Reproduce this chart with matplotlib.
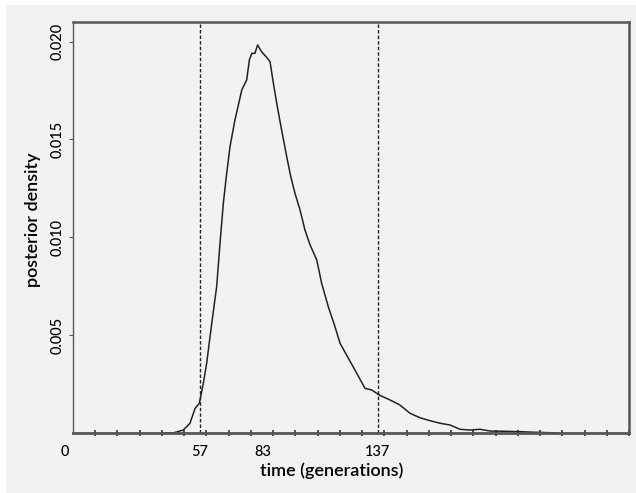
import numpy as np
from matplotlib import pyplot as plt
from matplotlib.patches import Rectangle
import matplotlib.transforms as mtransforms

# posterior density of time (generations)
gens = [40.0, 45.0, 49.6, 52.6, 54.9, 56.8, 58.6, 60.1, 62.4, 64.6, 66.1, 67.6,
        69.1, 70.6, 72.8, 75.9, 78.1, 79.3, 80.4, 81.8, 83.0, 84.8, 87.1, 88.6,
        90.1, 91.6, 93.8, 96.1, 97.9, 99.8, 102.1, 104.3, 106.6, 109.6, 111.8,
        114.8, 117.8, 120.1, 123.8, 127.6, 131.3, 134.3, 137.7, 142.5, 147.0,
        151.5, 156.0, 160.5, 165.0, 169.5, 174.0, 178.5, 183.0, 187.5, 193.5,
        201.0, 206.8, 213.0, 218.0]
density = [0.0, 0.0, 0.000153, 0.000496, 0.00126, 0.00152, 0.00254, 0.00356,
           0.00561, 0.00748, 0.00969, 0.01174, 0.01327, 0.01463, 0.01599,
           0.01753, 0.01804, 0.01906, 0.01940, 0.01940, 0.01983, 0.01948,
           0.01919, 0.01897, 0.01787, 0.01685, 0.01548, 0.01412, 0.01310,
           0.01225, 0.01139, 0.01037, 0.00961, 0.00884, 0.00765, 0.00645,
           0.00543, 0.00458, 0.00382, 0.00305, 0.00228, 0.00220, 0.00194,
           0.00169, 0.00143, 0.00101, 0.00078, 0.00063, 0.00050, 0.00041,
           0.00019, 0.00015, 0.00019, 0.00010, 0.00009, 0.00007, 0.00004,
           0.00002, 0.0]

# 95% interval bounds and mode
interval = [57, 137]
xlabels_at = [0, 57, 83, 137]
yticks = [0.005, 0.010, 0.015, 0.020]

bg = "#f2f2f2"
plt.rcParams['font.family'] = ['Lato', 'DejaVu Sans']

fig = plt.figure(figsize=(6.36, 4.93), dpi=100, facecolor="white")
fig.patches.append(Rectangle((6 / 636, 0), 1, 1 - 5 / 493, transform=fig.transFigure,
                             facecolor=bg, edgecolor="none", zorder=-10))
ax = fig.add_axes([73 / 636, 1 - 433 / 493, (629 - 73) / 636, (433 - 22) / 493])
ax.set_facecolor(bg)

ax.plot(gens, density, color="#222222", lw=1.1)
for v in interval:
    ax.axvline(v, color="#222222", lw=1.0, linestyle=(0, (2.5, 1.5)))

ax.set_xlim(0, 250)
ax.set_ylim(0, 0.021)

# x axis: small ticks every 10, labels only at interval bounds and mode
ax.set_xticks(xlabels_at)
ax.set_xticklabels([str(v) for v in xlabels_at], fontsize=10.5, fontweight="medium")
ax.tick_params(axis="x", which="major", length=0, pad=9)
ax.set_xticks(np.arange(0, 251, 10), minor=True)
ax.tick_params(axis="x", which="minor", direction="inout", length=4, width=1.2,
               color="#333333")
labs = ax.get_xticklabels()
labs[0].set_transform(labs[0].get_transform() +
                      mtransforms.ScaledTranslation(-8 / 100, 0, fig.dpi_scale_trans))
labs[2].set_transform(labs[2].get_transform() +
                      mtransforms.ScaledTranslation(5 / 100, 0, fig.dpi_scale_trans))

ax.set_yticks(yticks)
ax.set_yticklabels(["%.3f" % v for v in yticks], rotation=90, va="center",
                   fontsize=10.5, fontweight="medium")
ax.tick_params(axis="y", direction="out", length=3, width=0.8, color="#555555", pad=3)

ax.set_xlabel("time (generations)", fontsize=13, fontweight="semibold")
ax.set_ylabel("posterior density", fontsize=13, fontweight="semibold")
ax.xaxis.set_label_coords(0.466, -0.072)
ax.yaxis.set_label_coords(-0.057, 0.52)

for side, lw in [("top", 1.8), ("right", 1.8), ("left", 1.0), ("bottom", 2.0)]:
    ax.spines[side].set_linewidth(lw)
    ax.spines[side].set_color("#555555")

fig.savefig("out.png", dpi=100, facecolor=fig.get_facecolor())
